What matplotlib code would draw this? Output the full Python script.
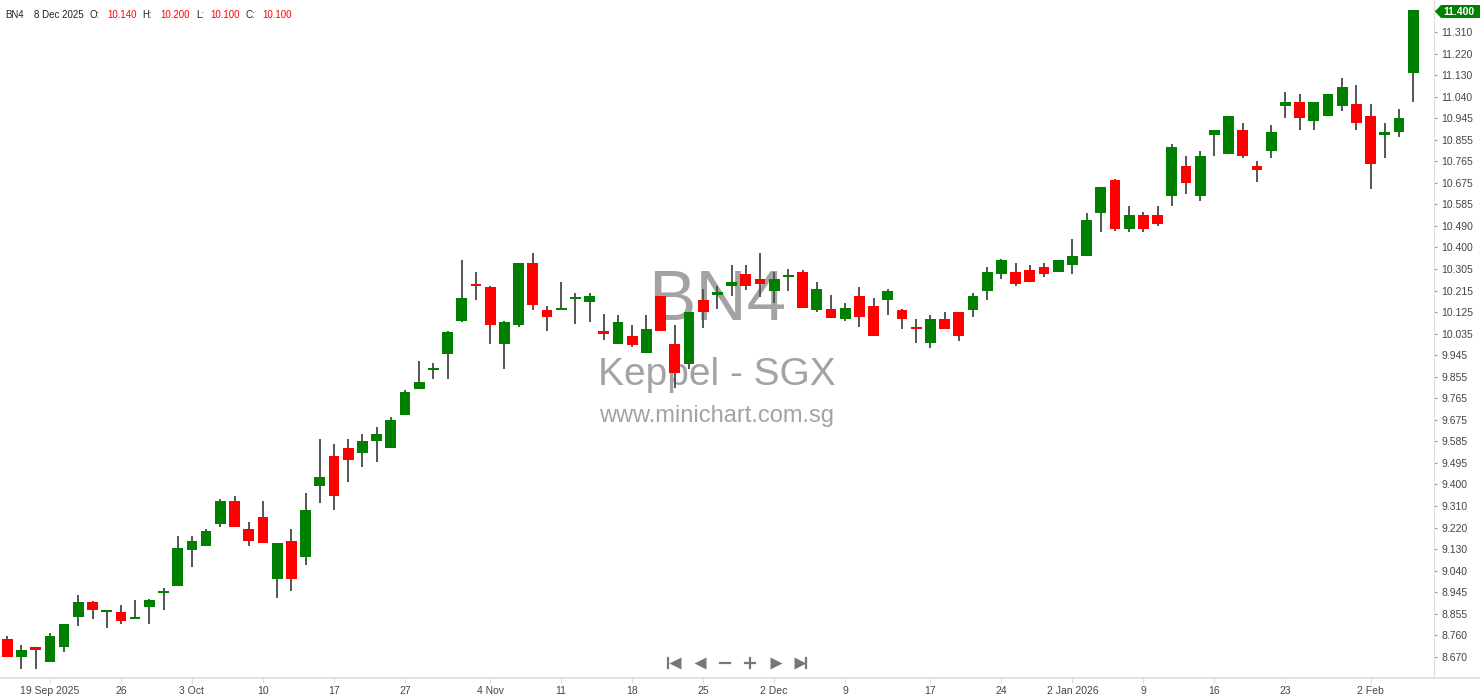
import numpy as np
import pandas as pd
import matplotlib
matplotlib.use("Agg")
import matplotlib.pyplot as plt
from matplotlib.patches import Polygon

# trading days (SGX), 16 Sep 2025 - 5 Feb 2026
holidays = ['2025-10-20', '2025-12-25', '2026-01-01']
dates = pd.bdate_range('2025-09-16', '2026-02-05')
dates = dates[~dates.isin(pd.to_datetime(holidays))]

opens = [8.745, 8.67, 8.71, 8.65, 8.71, 8.84, 8.90, 8.86, 8.86, 8.83,
         8.88, 8.94, 8.97, 9.12, 9.14, 9.23, 9.33, 9.21, 9.26, 9.00,
         9.16, 9.09, 9.39, 9.52, 9.55, 9.53, 9.58, 9.55, 9.69, 9.80,
         9.88, 9.95, 10.09, 10.245, 10.23, 9.99, 10.07, 10.335, 10.135, 10.135,
         10.18, 10.17, 10.045, 9.99, 10.025, 9.955, 10.195, 9.99, 9.905, 10.175,
         10.20, 10.235, 10.285, 10.265, 10.215, 10.275, 10.295, 10.135, 10.14, 10.095,
         10.195, 10.15, 10.175, 10.135, 10.065, 9.995, 10.095, 10.125, 10.135, 10.215,
         10.285, 10.295, 10.305, 10.315, 10.295, 10.325, 10.365, 10.545, 10.685, 10.475,
         10.535, 10.535, 10.615, 10.745, 10.615, 10.875, 10.795, 10.895, 10.745, 10.805,
         10.995, 11.015, 10.935, 10.955, 10.995, 11.005, 10.955, 10.875, 10.885, 11.135]
highs = [8.76, 8.72, 8.71, 8.77, 8.81, 8.93, 8.905, 8.87, 8.89, 8.91,
         8.915, 8.96, 9.18, 9.18, 9.21, 9.335, 9.35, 9.24, 9.33, 9.15,
         9.21, 9.36, 9.59, 9.57, 9.59, 9.61, 9.64, 9.685, 9.795, 9.92,
         9.91, 10.045, 10.345, 10.295, 10.235, 10.09, 10.335, 10.375, 10.15, 10.255,
         10.205, 10.205, 10.12, 10.115, 10.07, 10.115, 10.195, 10.07, 10.125, 10.225,
         10.235, 10.325, 10.325, 10.375, 10.295, 10.31, 10.305, 10.255, 10.20, 10.165,
         10.23, 10.185, 10.225, 10.14, 10.095, 10.115, 10.125, 10.125, 10.205, 10.315,
         10.35, 10.335, 10.325, 10.335, 10.345, 10.435, 10.545, 10.655, 10.69, 10.575,
         10.55, 10.575, 10.835, 10.785, 10.805, 10.895, 10.955, 10.925, 10.765, 10.915,
         11.055, 11.045, 11.015, 11.045, 11.115, 11.085, 11.005, 10.925, 10.985, 11.40]
lows = [8.67, 8.62, 8.62, 8.65, 8.69, 8.80, 8.83, 8.79, 8.81, 8.83,
        8.81, 8.87, 8.97, 9.05, 9.14, 9.22, 9.22, 9.14, 9.15, 8.92,
        8.95, 9.06, 9.32, 9.29, 9.41, 9.47, 9.495, 9.55, 9.69, 9.80,
        9.845, 9.845, 10.085, 10.175, 9.99, 9.885, 10.065, 10.135, 10.045, 10.135,
        10.075, 10.085, 10.01, 9.99, 9.98, 9.955, 10.045, 9.805, 9.885, 10.06,
        10.14, 10.195, 10.22, 10.19, 10.165, 10.215, 10.145, 10.125, 10.10, 10.09,
        10.065, 10.025, 10.115, 10.055, 9.995, 9.975, 10.055, 10.005, 10.105, 10.175,
        10.265, 10.235, 10.255, 10.275, 10.295, 10.285, 10.365, 10.465, 10.47, 10.465,
        10.465, 10.49, 10.575, 10.625, 10.595, 10.785, 10.795, 10.775, 10.675, 10.775,
        10.945, 10.895, 10.895, 10.955, 10.975, 10.895, 10.645, 10.775, 10.865, 11.015]
closes = [8.67, 8.70, 8.70, 8.76, 8.81, 8.90, 8.87, 8.865, 8.82, 8.83,
          8.91, 8.95, 9.13, 9.16, 9.20, 9.33, 9.22, 9.16, 9.15, 9.15,
          9.00, 9.29, 9.43, 9.35, 9.50, 9.58, 9.61, 9.67, 9.79, 9.83,
          9.88, 10.04, 10.185, 10.235, 10.07, 10.085, 10.335, 10.155, 10.105, 10.14,
          10.185, 10.195, 10.035, 10.085, 9.985, 10.055, 10.045, 9.87, 10.125, 10.125,
          10.20, 10.255, 10.235, 10.245, 10.265, 10.275, 10.145, 10.225, 10.10, 10.145,
          10.105, 10.025, 10.215, 10.095, 10.055, 10.095, 10.055, 10.025, 10.195, 10.295,
          10.345, 10.245, 10.255, 10.285, 10.345, 10.365, 10.515, 10.655, 10.475, 10.535,
          10.475, 10.50, 10.825, 10.67, 10.785, 10.895, 10.955, 10.785, 10.725, 10.885,
          11.015, 10.945, 11.015, 11.045, 11.075, 10.925, 10.75, 10.885, 10.945, 11.40]

ytick_labels = ['11.400', '11.310', '11.220', '11.130', '11.040', '10.945', '10.855',
                '10.765', '10.675', '10.585', '10.490', '10.400', '10.305', '10.215',
                '10.125', '10.035', '9.945', '9.855', '9.765', '9.675', '9.585',
                '9.495', '9.400', '9.310', '9.220', '9.130', '9.040', '8.945',
                '8.855', '8.760', '8.670']
xtick_dates = ['2025-09-19', '2025-09-26', '2025-10-03', '2025-10-10', '2025-10-17',
               '2025-10-27', '2025-11-04', '2025-11-11', '2025-11-18', '2025-11-25',
               '2025-12-02', '2025-12-09', '2025-12-17', '2025-12-24', '2026-01-02',
               '2026-01-09', '2026-01-16', '2026-01-23', '2026-02-02']
xtick_labels = ['19 Sep 2025', '26', '3 Oct', '10', '17', '27', '4 Nov', '11', '18', '25',
                '2 Dec', '9', '17', '24', '2 Jan 2026', '9', '16', '23', '2 Feb']

W, H = 1480, 699
fig = plt.figure(figsize=(W / 100, H / 100), dpi=100)
plt.rcParams['font.family'] = ['Liberation Sans', 'DejaVu Sans']

ax = fig.add_axes([0, 1 - 677 / H, 1434 / W, 677 / H])

o = np.array(opens)
c = np.array(closes)
hi = np.array(highs)
lo = np.array(lows)
x = np.arange(len(o))
up = c >= o
cols = np.where(up, '#008000', '#ff0000')

# wicks then bodies
ax.vlines(x, lo, hi, color='#555555', lw=1.4, zorder=2)
body_lo = np.minimum(o, c)
body_h = np.maximum(np.abs(c - o), 0.009)
ax.bar(x, body_h, bottom=body_lo, width=0.76, color=cols, edgecolor='none', zorder=3)

# watermark (baselines placed in axes fraction)
ax.text(0.5, 0.527, 'BN4', transform=ax.transAxes, ha='center', va='baseline',
        fontsize=51, color='#a3a3a3', zorder=1)
ax.text(0.5, 0.431, 'Keppel - SGX', transform=ax.transAxes, ha='center', va='baseline',
        fontsize=28, color='#a3a3a3', zorder=1)
ax.text(0.5, 0.376, 'www.minichart.com.sg', transform=ax.transAxes, ha='center',
        va='baseline', fontsize=17, color='#a3a3a3', zorder=1)

ax.set_xlim(-0.514, 100.47)
ax.set_ylim(8.585, 11.444)

ax.yaxis.tick_right()
ax.set_yticks(np.linspace(11.4, 8.67, len(ytick_labels)))
ax.set_yticklabels(ytick_labels)
ax.tick_params(axis='y', length=2.5, width=0.8, color='#999999', pad=3,
               labelsize=7.5, labelcolor='#444444')

pos = [dates.get_loc(pd.Timestamp(d)) for d in xtick_dates]
ax.set_xticks(pos)
ax.set_xticklabels(xtick_labels)
ax.tick_params(axis='x', length=4, width=0.8, color='#dddddd', pad=2.5,
               labelsize=7.5, labelcolor='#444444')

for s in ['top', 'left', 'bottom']:
    ax.spines[s].set_visible(False)
ax.spines['right'].set_color('#dddddd')

# overlay in pixel coordinates
ov = fig.add_axes([0, 0, 1, 1], zorder=5)
ov.set_xlim(0, W)
ov.set_ylim(H, 0)
ov.axis('off')
ov.patch.set_alpha(0)

ov.plot([0, W], [677.5, 677.5], color='#dddddd', lw=1.2)

# last price tag
tag = Polygon([[1435, 11.5], [1441, 5], [1480, 5], [1480, 18], [1441, 18]],
              closed=True, fc='#008000', ec='none')
ov.add_patch(tag)
ov.text(1459, 11.8, '11.400', color='white', fontsize=7.5, ha='center', va='center',
        fontweight='bold')

# header
hdr = [(5, 'BN4', '#222222'), (34, '8 Dec 2025', '#222222'), (89, 'O:', '#222222'),
       (107, '10.140', '#ff0000'), (142, 'H:', '#222222'), (160, '10.200', '#ff0000'),
       (196, 'L:', '#222222'), (210, '10.100', '#ff0000'), (246, 'C:', '#222222'),
       (262, '10.100', '#ff0000')]
for hx, ht, hc in hdr:
    ov.text(hx, 15, ht, color=hc, fontsize=7, ha='left', va='center')

# navigation icons
nc = '#777777'
ny = 663
ov.plot([668, 668], [ny - 5, ny + 5], color=nc, lw=1.6)
ov.plot(675, ny, marker='<', ms=8, color=nc, mec='none')
ov.plot(700, ny, marker='<', ms=8, color=nc, mec='none')
ov.plot([719.5, 729.5], [ny, ny], color=nc, lw=1.6)
ov.plot([745, 755], [ny, ny], color=nc, lw=1.6)
ov.plot([750, 750], [ny - 5, ny + 5], color=nc, lw=1.6)
ov.plot(776, ny, marker='>', ms=8, color=nc, mec='none')
ov.plot(800, ny, marker='>', ms=8, color=nc, mec='none')
ov.plot([806, 806], [ny - 5, ny + 5], color=nc, lw=1.6)

fig.savefig('out.png', dpi=100)
